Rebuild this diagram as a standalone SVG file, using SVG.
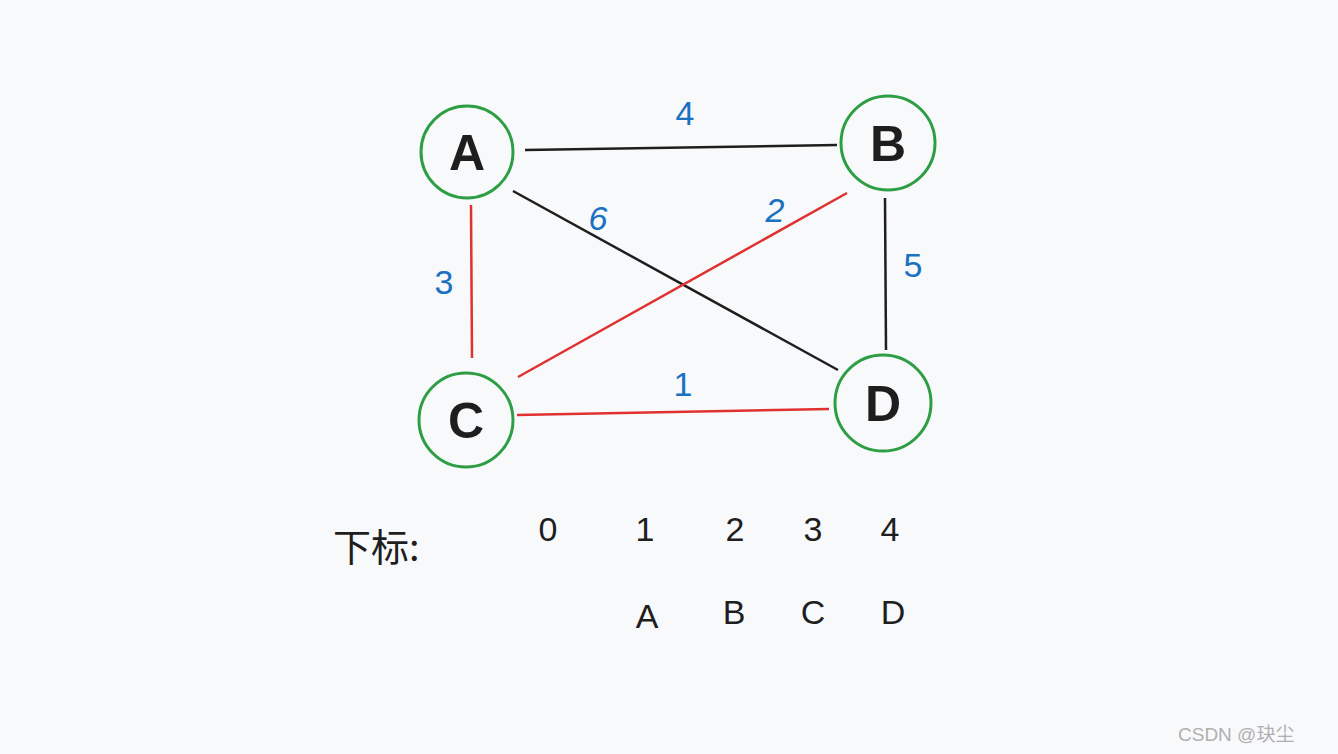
<svg xmlns="http://www.w3.org/2000/svg" width="1338" height="754" viewBox="0 0 1338 754">
<style>
.n{fill:none;stroke:#2e9e44;stroke-width:3}
.nl{font-family:"Liberation Sans",sans-serif;font-size:50px;font-weight:bold;fill:#1e1e1e;text-anchor:middle}
.e{stroke-width:2.5;fill:none}
.k{stroke:#1e1e1e}.r{stroke:#e03131}
.w{font-family:"Liberation Sans",sans-serif;font-size:34px;fill:#1971c2;text-anchor:middle}
.t{font-family:"Liberation Sans",sans-serif;font-size:34px;fill:#1e1e1e;text-anchor:middle}
</style>
<rect width="1338" height="754" fill="#f8f9fb"/>
<g id="connectors">
<line class="e k" x1="525" y1="150" x2="837" y2="145"/>
<line class="e k" x1="513" y1="191" x2="838" y2="370"/>
<line class="e k" x1="885" y1="198" x2="886" y2="350"/>
<line class="e r" x1="471" y1="205" x2="472" y2="358"/>
<line class="e r" x1="847" y1="193" x2="518" y2="377"/>
<line class="e r" x1="517" y1="415" x2="829" y2="409"/>
<text class="w" x="685" y="125">4</text>
<text class="w" x="598" y="230" font-style="italic">6</text>
<text class="w" x="775" y="222" font-style="italic">2</text>
<text class="w" x="444" y="294">3</text>
<text class="w" x="913" y="277">5</text>
<text class="w" x="683" y="396">1</text>
</g>
<g id="A"><circle class="n" cx="467" cy="152" r="46"/><text class="nl" x="467" y="170">A</text></g>
<g id="B"><circle class="n" cx="888" cy="143" r="47"/><text class="nl" x="888" y="161">B</text></g>
<g id="C"><circle class="n" cx="466" cy="420" r="47"/><text class="nl" x="466" y="438">C</text></g>
<g id="D"><circle class="n" cx="883" cy="403" r="48"/><text class="nl" x="883" y="421">D</text></g>
<text x="333" y="561" font-family="'Noto Sans CJK SC',sans-serif" font-size="38" fill="#1e1e1e">下标:</text>
<text class="t" x="548" y="541">0</text>
<text class="t" x="645" y="541">1</text>
<text class="t" x="735" y="541">2</text>
<text class="t" x="813" y="541">3</text>
<text class="t" x="890" y="541">4</text>
<text class="t" x="647" y="628">A</text>
<text class="t" x="734" y="624">B</text>
<text class="t" x="813" y="624">C</text>
<text class="t" x="893" y="624">D</text>
<text x="1178" y="741" font-family="'Liberation Sans','Noto Sans CJK SC',sans-serif" font-size="19" fill="#b0b0b0">CSDN @玦尘</text>
</svg>
